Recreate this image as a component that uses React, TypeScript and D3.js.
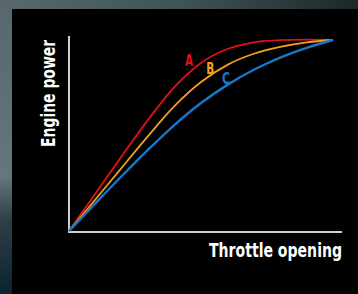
import React, { useLayoutEffect, useRef, useState } from "react";
import * as d3 from "d3";

const throttle = [0, 10, 20, 30, 40, 50, 60, 70, 80, 90, 100];
const powerA = [0, 19.6, 39.2, 58.3, 75.5, 88, 95.3, 98.8, 99.9, 100.2, 100];
const powerB = [0, 16.5, 33.2, 49.8, 65.5, 78, 87, 92.8, 96.4, 98.8, 100];
const powerC = [0, 14.5, 28.8, 42.6, 55.6, 67, 76.5, 84.4, 90.8, 95.9, 100];
const seriesNames = ["A", "B", "C"];
const seriesColors = ["#e0101c", "#f5a01a", "#1878c8"];
const labelPos = [
  [45.5, 86.5],
  [53.5, 82],
  [59.5, 77],
];
const xTitle = "Throttle opening";
const yTitle = "Engine power";

const FONT = "'DejaVu Sans Condensed', 'DejaVu Sans', sans-serif";

function FitText(props: {
  x: number;
  y: number;
  width: number;
  rotate?: number;
  size: number;
  fill: string;
  anchor?: string;
  children: string;
}) {
  const ref = useRef<SVGTextElement>(null);
  const [sx, setSx] = useState(0.78);
  useLayoutEffect(() => {
    if (ref.current) {
      const w = ref.current.getComputedTextLength();
      if (w > 0) setSx(props.width / w);
    }
  }, [props.width, props.children]);
  const rot = props.rotate ? ` rotate(${props.rotate})` : "";
  return (
    <text
      ref={ref}
      transform={`translate(${props.x},${props.y})${rot} scale(${sx},1)`}
      fill={props.fill}
      fontFamily={FONT}
      fontWeight="bold"
      fontSize={props.size}
      textAnchor={props.anchor || "start"}
    >
      {props.children}
    </text>
  );
}

export default function App() {
  const W = 358;
  const H = 294;
  const x = d3.scaleLinear().domain([0, 100]).range([69, 333]);
  const y = d3.scaleLinear().domain([0, 100]).range([231, 40]);
  const line = d3
    .line<number>()
    .x((_, i) => x(throttle[i]))
    .y((d) => y(d))
    .curve(d3.curveCatmullRom.alpha(0.5));
  const series = [powerA, powerB, powerC];
  return (
    <svg
      width={W}
      height={H}
      style={{ position: "absolute", left: 0, top: 0 }}
    >
      <defs>
        <linearGradient id="bgTop" x1="0" y1="0" x2="1" y2="0">
          <stop offset="0" stopColor="#56686c" />
          <stop offset="0.5" stopColor="#3f5254" />
          <stop offset="1" stopColor="#1d2828" />
        </linearGradient>
        <linearGradient id="bgLeft" x1="0" y1="0" x2="0" y2="1">
          <stop offset="0" stopColor="#56686c" />
          <stop offset="0.6" stopColor="#66767a" />
          <stop offset="0.75" stopColor="#2c4048" />
          <stop offset="1" stopColor="#0c2230" />
        </linearGradient>
      </defs>
      <rect x={0} y={0} width={W} height={H} fill="url(#bgLeft)" />
      <rect x={12} y={0} width={W - 12} height={9} fill="url(#bgTop)" />
      <rect x={12} y={9} width={W - 12} height={H - 9} fill="#000" />
      <line x1={69} y1={36} x2={69} y2={232} stroke="#cfcfcf" strokeWidth={2} />
      <line x1={68} y1={232} x2={342} y2={232} stroke="#cfcfcf" strokeWidth={2} />
      {series.map((s, i) => (
        <path
          key={i}
          d={line(s) || ""}
          fill="none"
          stroke={seriesColors[i]}
          strokeWidth={i === 2 ? 2.4 : 1.8}
        />
      ))}
      {seriesNames.map((n, i) => (
        <FitText
          key={n}
          x={x(labelPos[i][0])}
          y={y(labelPos[i][1])}
          width={8}
          size={15}
          fill={seriesColors[i]}
          anchor="middle"
        >
          {n}
        </FitText>
      ))}
      <FitText x={209} y={257} width={133} size={20} fill="#fff">
        {xTitle}
      </FitText>
      <FitText x={55} y={147} width={107} size={19} rotate={-90} fill="#fff">
        {yTitle}
      </FitText>
    </svg>
  );
}
